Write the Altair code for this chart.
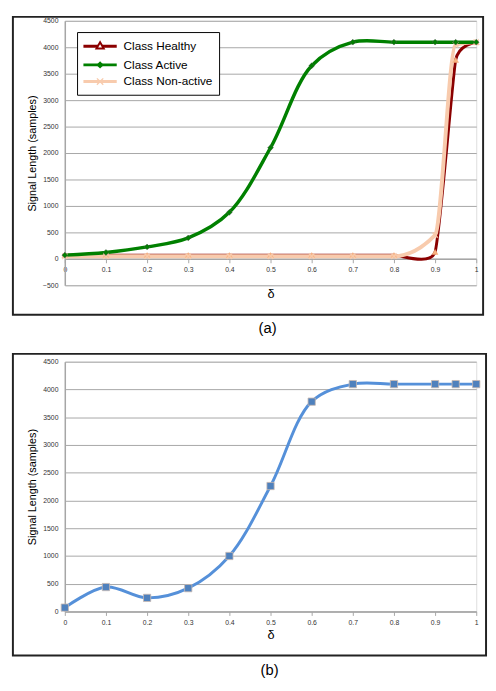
import altair as alt
import pandas as pd

# ---------------- data ----------------
delta = [0, 0.1, 0.2, 0.3, 0.4, 0.5, 0.6, 0.7, 0.8, 0.9, 0.95, 1.0]
healthy = [70, 70, 70, 70, 70, 70, 70, 70, 70, 130, 3760, 4096]
active = [70, 120, 225, 395, 880, 2100, 3650, 4096, 4096, 4096, 4096, 4096]
non_active = [50, 50, 50, 50, 50, 50, 50, 50, 50, 450, 4050, 4096]
overall = [70, 440, 245, 420, 1000, 2260, 3780, 4096, 4096, 4096, 4096, 4096]

series_names = ["Class Healthy", "Class Active", "Class Non-active"]
x_ticks = [0, 0.1, 0.2, 0.3, 0.4, 0.5, 0.6, 0.7, 0.8, 0.9, 1]
y_ticks_a = [-500, 0, 500, 1000, 1500, 2000, 2500, 3000, 3500, 4000, 4500]
y_ticks_b = [0, 500, 1000, 1500, 2000, 2500, 3000, 3500, 4000, 4500]

FONT = "Liberation Sans"
GRID = "#A6A6A6"
AXIS = "#A6A6A6"

line_colors = {"Class Healthy": "#8B0000", "Class Active": "#008000", "Class Non-active": "#F8CBAD"}
line_widths = {"Class Healthy": 3, "Class Active": 3.5, "Class Non-active": 4}
line_interp = {"Class Healthy": "cardinal", "Class Active": "catmull-rom", "Class Non-active": "monotone"}
marker_shapes = {
    "Class Healthy": "triangle-up",
    "Class Active": "diamond",
    "Class Non-active": "M-1,-0.75L-0.75,-1L0,-0.3L0.75,-1L1,-0.75L0.3,0L1,0.75L0.75,1L0,0.3L-0.75,1L-1,0.75L-0.3,0Z",
}
marker_fill = {"Class Healthy": "#F7B07E", "Class Active": "#008000", "Class Non-active": "#F8CBAD"}
values_by_series = {"Class Healthy": healthy, "Class Active": active, "Class Non-active": non_active}

one = pd.DataFrame({"k": [0]})


def frame(x1, x2, y1, y2):
    return alt.Chart(one).mark_rect(fill="white", fillOpacity=0, stroke="#222222", strokeWidth=2).encode(
        x=alt.value(x1), x2=alt.value(x2), y=alt.value(y1), y2=alt.value(y2)
    )


def caption(text, x, y):
    return alt.Chart(one).mark_text(fontSize=15, font=FONT, color="black").encode(
        x=alt.value(x), y=alt.value(y), text=alt.value(text)
    )


def y_axis(ticks):
    return alt.Axis(
        values=ticks, format="d", grid=True, gridColor=GRID, gridWidth=1, tickSize=0, labelPadding=7,
        labelFontSize=7, labelColor="#333333", labelFont=FONT, domainColor=AXIS, domainWidth=1.5,
        title="Signal Length (samples)", titleFontSize=11, titleFontWeight="normal", titleFont=FONT,
        titleColor="black", titlePadding=5,
    )


def x_axis(offset, title_pad):
    return alt.Axis(
        values=x_ticks, format="~g", grid=False, tickSize=4, tickColor=AXIS, labelPadding=3,
        labelFontSize=7, labelColor="#333333", labelFont=FONT, labelFlush=False, domainColor=AXIS,
        domainWidth=1.5, offset=offset, title="δ", titleFontSize=13, titleFontWeight="normal",
        titleFont=FONT, titleColor="black", titlePadding=title_pad,
    )


# ---------------- panel (a) ----------------
rows = []
for name in series_names:
    for d, v in zip(delta, values_by_series[name]):
        rows.append({"delta": d, "value": v, "series": name})
df_a = pd.DataFrame(rows)

XA = alt.X("delta:Q", scale=alt.Scale(domain=[0, 1], nice=False), axis=x_axis(-27, 15))
YA = alt.Y("value:Q", scale=alt.Scale(domain=[-500, 4500], nice=False), axis=y_axis(y_ticks_a))

layers_a = [frame(-53, 427, -4, 300)]
for name in ["Class Healthy", "Class Non-active", "Class Active"]:
    base = alt.Chart(df_a).transform_filter(alt.datum.series == name)
    if line_interp[name] == "cardinal":
        mk = base.mark_line(interpolate="cardinal", tension=0.55, color=line_colors[name], strokeWidth=line_widths[name])
    else:
        mk = base.mark_line(interpolate=line_interp[name], color=line_colors[name], strokeWidth=line_widths[name])
    layers_a.append(mk.encode(x=XA, y=YA))
for name in ["Class Healthy", "Class Non-active", "Class Active"]:
    base = alt.Chart(df_a).transform_filter(alt.datum.series == name)
    layers_a.append(
        base.mark_point(shape=marker_shapes[name], filled=True, fill=marker_fill[name], size=35, opacity=1,
                        stroke="#555555" if name == "Class Active" else marker_fill[name], strokeWidth=0.5).encode(x=XA, y=YA)
    )

# legend
layers_a.append(
    alt.Chart(one).mark_rect(fill="white", stroke="black", strokeWidth=1).encode(
        x=alt.value(13), x2=alt.value(158), y=alt.value(12), y2=alt.value(76))
)
legend_y = [26, 45, 62]
for name, ly in zip(series_names, legend_y):
    lrow = pd.DataFrame({"series": [name]})
    layers_a.append(
        alt.Chart(lrow).mark_rule(color=line_colors[name], strokeWidth=3).encode(
            x=alt.value(19), x2=alt.value(53), y=alt.value(ly))
    )
    if name == "Class Healthy":
        pt = alt.Chart(lrow).mark_point(shape="triangle-up", filled=True, fill="white", stroke=line_colors[name],
                                         strokeWidth=2, size=55, opacity=1)
    else:
        pt = alt.Chart(lrow).mark_point(shape=marker_shapes[name], filled=True, fill=line_colors[name],
                                         size=55, opacity=1)
    layers_a.append(pt.encode(x=alt.value(36), y=alt.value(ly - 1 if name == "Class Healthy" else ly)))
    layers_a.append(
        alt.Chart(lrow).mark_text(align="left", baseline="middle", fontSize=12, font=FONT, color="black").encode(
            x=alt.value(60), y=alt.value(ly), text="series:N")
    )

layers_a.append(caption("(a)", 207, 314))

panel_a = alt.layer(*layers_a).properties(width=420, height=270)

# ---------------- panel (b) ----------------
df_b = pd.DataFrame({"delta": delta, "value": overall})
XB = alt.X("delta:Q", scale=alt.Scale(domain=[0, 1], nice=False), axis=x_axis(0, 4))
YB = alt.Y("value:Q", scale=alt.Scale(domain=[0, 4500], nice=False), axis=y_axis(y_ticks_b))

panel_b = alt.layer(
    frame(-53, 430, -8, 300),
    alt.Chart(df_b).mark_line(interpolate="catmull-rom", color="#5590D9", strokeWidth=3).encode(x=XB, y=YB),
    alt.Chart(df_b).mark_point(shape="square", filled=True, fill="#4F81BD", stroke="#C9B8B0", strokeWidth=0.8,
                               size=55, opacity=1).encode(x=XB, y=YB),
    caption("(b)", 209, 315),
).properties(width=420, height=255)

chart = (
    alt.vconcat(panel_a, panel_b, spacing=78, bounds="flush")
    .properties(padding={"left": 3, "top": 0, "right": 0, "bottom": 0})
    .configure_view(strokeWidth=0)
    .configure(font=FONT)
)

chart.save("out.html", embed_options={"renderer": "svg", "actions": False})
